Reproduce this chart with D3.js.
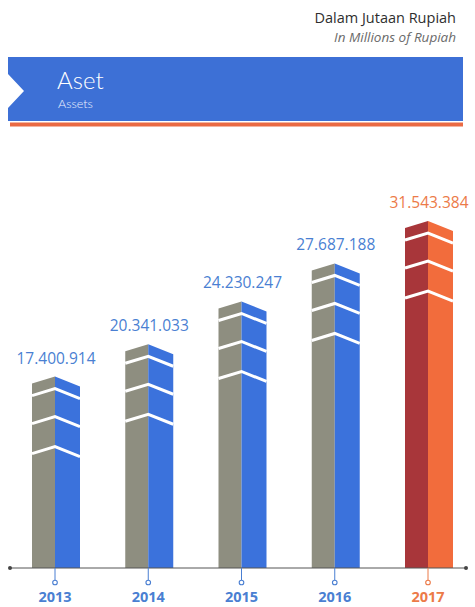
<!DOCTYPE html>
<html><head><meta charset="utf-8">
<script src="https://cdn.jsdelivr.net/npm/d3@7"></script>
<style>body{margin:0;background:#fff}svg{display:block}</style>
</head><body>
<script>
// ---- data ----
const years = ["2013", "2014", "2015", "2016", "2017"];
const assets = [17400914, 20341033, 24230247, 27687188, 31543384];
const valueLabels = ["17.400.914", "20.341.033", "24.230.247", "27.687.188", "31.543.384"];
const unitId = "Dalam Jutaan Rupiah";
const unitEn = "In Millions of Rupiah";
const titleId = "Aset";
const titleEn = "Assets";

// ---- layout / style ----
const W = 475, H = 607;
const base = 568;
const BLUE = "#3b72dc", GRAY = "#8e8e80", DARKRED = "#a8363a", ORANGE = "#f26c3c";
const LABEL_BLUE = "#4a7fd2", LABEL_ORANGE = "#ec7a48";
const leftW = 23, rightW = 25;
const stripeOffsets = [12, 40, 70];

const svg = d3.select("body").append("svg").attr("width", W).attr("height", H);

// header
svg.append("text").attr("x", 456).attr("y", 23).attr("text-anchor", "end")
  .attr("font-family", "Open Sans").attr("font-size", 14.5).attr("fill", "#2e2e2e").text(unitId);
svg.append("text").attr("x", 456).attr("y", 42).attr("text-anchor", "end")
  .attr("font-family", "Open Sans").attr("font-style", "italic").attr("font-size", 13.5).attr("fill", "#6a6a6a").text(unitEn);

svg.append("path").attr("d", "M8,57 H463 V121 H8 V108 L24,91 L8,74 Z").attr("fill", "#3d70d6");
svg.append("rect").attr("x", 10).attr("y", 122.5).attr("width", 453).attr("height", 4).attr("fill", "#ea6a44");
svg.append("text").attr("x", 57).attr("y", 89).attr("font-family", "Lato").attr("font-weight", 300)
  .attr("font-size", 24).attr("fill", "#fff").text(titleId);
svg.append("text").attr("x", 58).attr("y", 108).attr("font-family", "Lato").attr("font-weight", 300)
  .attr("font-size", 12.5).attr("fill", "#eef3ff").text(titleEn);

// scales
const x = d3.scalePoint().domain(years).range([55, 428]);
const y = d3.scaleLinear().domain([0, 32000000]).range([base, base - 352]);

const data = years.map((yr, i) => ({ yr, v: assets[i], label: valueLabels[i], last: i === years.length - 1 }));

const g = svg.append("g");
data.forEach(d => {
  const cx = x(d.yr), top = y(d.v);
  g.append("path")
    .attr("d", `M${cx - leftW},${base} V${top + 7} L${cx},${top} V${base} Z`)
    .attr("fill", d.last ? DARKRED : GRAY);
  g.append("path")
    .attr("d", `M${cx},${base} V${top} L${cx + rightW},${top + 10} V${base} Z`)
    .attr("fill", d.last ? ORANGE : BLUE);
  stripeOffsets.forEach(o => {
    g.append("path")
      .attr("d", `M${cx - leftW},${top + o + 7} L${cx},${top + o} L${cx + rightW},${top + o + 10}`)
      .attr("fill", "none").attr("stroke", "#fff").attr("stroke-width", 3);
  });
  g.append("text").attr("x", cx + 1).attr("y", top - 13).attr("text-anchor", "middle")
    .attr("font-family", "Open Sans").attr("font-size", 15.5)
    .attr("fill", d.last ? LABEL_ORANGE : LABEL_BLUE).text(d.label);
});

// axis line
svg.append("line").attr("x1", 10).attr("x2", 466).attr("y1", base).attr("y2", base)
  .attr("stroke", "#555").attr("stroke-width", 1);
[10, 466].forEach(cx => svg.append("circle").attr("cx", cx).attr("cy", base).attr("r", 2).attr("fill", "#444"));

// ticks and year labels
data.forEach(d => {
  const cx = x(d.yr), col = d.last ? LABEL_ORANGE : LABEL_BLUE;
  svg.append("line").attr("x1", cx).attr("x2", cx).attr("y1", base).attr("y2", base + 12)
    .attr("stroke", col).attr("stroke-width", 1);
  svg.append("circle").attr("cx", cx).attr("cy", base + 14.5).attr("r", 2.3)
    .attr("fill", "#fff").attr("stroke", col).attr("stroke-width", 1.1);
  svg.append("text").attr("x", cx).attr("y", 602).attr("text-anchor", "middle")
    .attr("font-family", "Open Sans").attr("font-weight", 700).attr("font-size", 14.5)
    .attr("fill", col).text(d.yr);
});
</script>
</body></html>
